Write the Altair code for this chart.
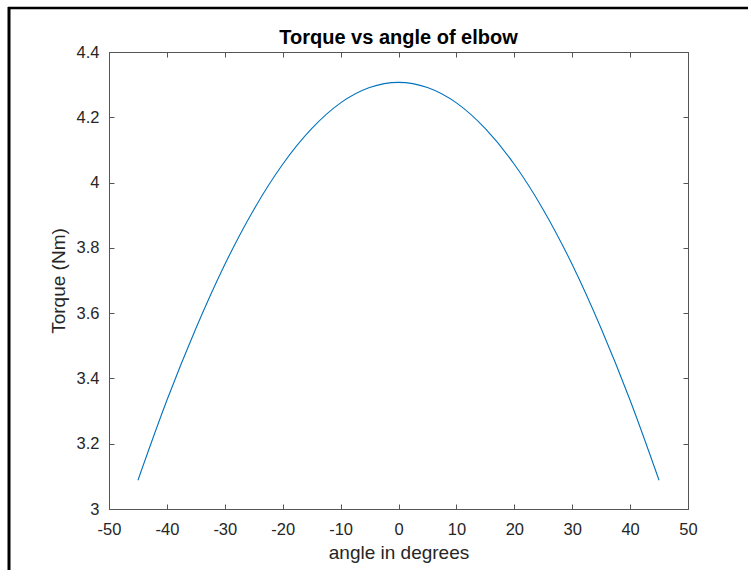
import altair as alt
import pandas as pd

# Data
angles = [-45, -40, -35, -30, -25, -20, -15, -10, -5, 0, 5, 10, 15, 20, 25, 30, 35, 40, 45]
torque = [3.088, 3.333, 3.553, 3.749, 3.917, 4.056, 4.165, 4.244, 4.291, 4.307,
          4.291, 4.244, 4.165, 4.056, 3.917, 3.749, 3.553, 3.333, 3.088]
x_ticks = [-50, -40, -30, -20, -10, 0, 10, 20, 30, 40, 50]
y_ticks = [3.0, 3.2, 3.4, 3.6, 3.8, 4.0, 4.2, 4.4]

df = pd.DataFrame({"angle": angles, "torque": torque})

FONT = "Liberation Sans"
AXC = "#555555"
TXT = "#262626"

xscale = alt.Scale(domain=[-50, 50], nice=False, zero=False)
yscale = alt.Scale(domain=[3.0, 4.4], nice=False, zero=False)

x_bottom = alt.Axis(orient="bottom", offset=-5, tickSize=5, domain=False, grid=False,
                    values=x_ticks, labelExpr="'' + datum.value", labelPadding=12,
                    labelFlush=False, labelOverlap=False,
                    title="angle in degrees", titlePadding=6)
y_left = alt.Axis(orient="left", offset=-5, tickSize=5, domain=False, grid=False,
                  values=y_ticks, labelExpr="'' + datum.value", labelPadding=10,
                  labelFlush=False, labelOverlap=False,
                  title="Torque (Nm)", titlePadding=8)
x_top = alt.Axis(orient="top", offset=-5, tickSize=5, domain=False, grid=False,
                 values=x_ticks, labels=False, title=None)
y_right = alt.Axis(orient="right", offset=-5, tickSize=5, domain=False, grid=False,
                   values=y_ticks, labels=False, title=None)

base = alt.Chart(df)

line = base.mark_line(color="#0072BD", strokeWidth=1.1, interpolate="monotone").encode(
    x=alt.X("angle:Q", scale=xscale, axis=x_bottom),
    y=alt.Y("torque:Q", scale=yscale, axis=y_left),
)

ghost = base.mark_line(opacity=0).encode(
    x=alt.X("angle:Q", scale=xscale, axis=x_top),
    y=alt.Y("torque:Q", scale=yscale, axis=y_right),
)

frame_df = pd.DataFrame({"k": [0]})
left_border = alt.Chart(frame_df).mark_rule(color="black", strokeWidth=3).encode(
    x=alt.value(-100), y=alt.value(-45), y2=alt.value(518)
)
top_border = alt.Chart(frame_df).mark_rule(color="black", strokeWidth=2.5).encode(
    x=alt.value(-101), x2=alt.value(639), y=alt.value(-44)
)

chart = (
    alt.layer(line, ghost, left_border, top_border)
    .resolve_axis(x="independent", y="independent")
    .properties(
        width=579,
        height=457,
        autosize=alt.AutoSizeParams(type="none"),
        padding={"left": 109, "top": 52, "right": 60, "bottom": 61},
        background="white",
        title=alt.TitleParams("Torque vs angle of elbow", font=FONT, fontSize=20,
                              fontWeight="bold", color="black", anchor="middle",
                              baseline="alphabetic", offset=7, dy=65),
    )
    .configure_view(stroke=AXC, strokeWidth=1)
    .configure_axis(labelFont=FONT, titleFont=FONT, labelFontSize=16.5, titleFontSize=19,
                    labelColor=TXT, titleColor=TXT, tickColor=AXC, tickWidth=1,
                    titleFontWeight="normal")
)

chart.save("out.html", embed_options={"renderer": "svg", "actions": False})
